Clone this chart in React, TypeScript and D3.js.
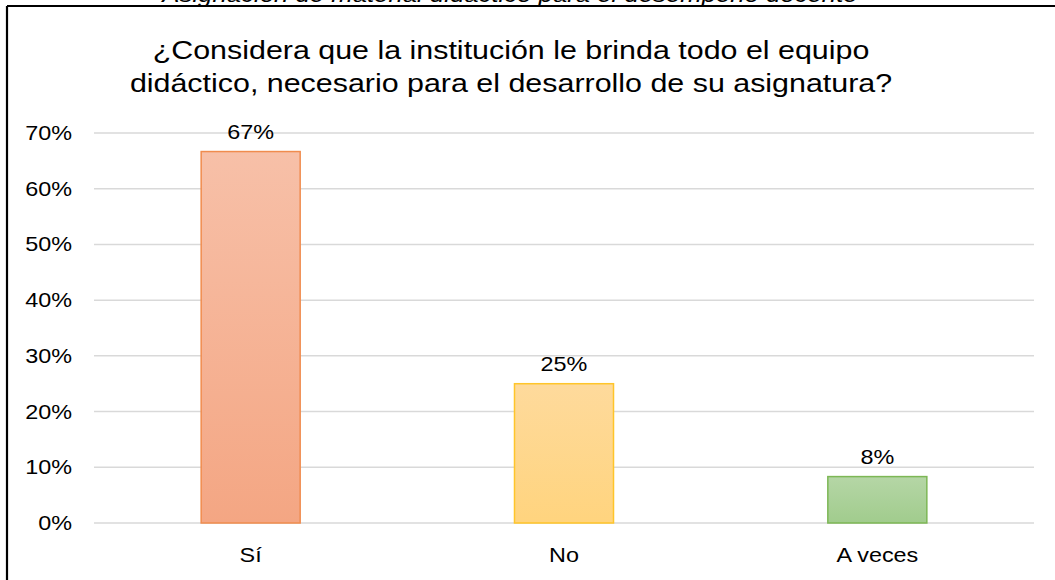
import React from "react";
import * as d3 from "d3";

const categories = ["Sí", "No", "A veces"];
const values = [0.6667, 0.25, 0.0833];
const yTicks = [0, 0.1, 0.2, 0.3, 0.4, 0.5, 0.6, 0.7];
const titleLines = [
  "¿Considera que la institución le brinda todo el equipo",
  "didáctico, necesario para el desarrollo de su asignatura?",
];
const caption = "Asignación de material didáctico para el desempeño docente";
const fills = [
  ["#F7C0A8", "#F4A683"],
  ["#FEDA9C", "#FFD47E"],
  ["#B5D6A6", "#A1CC8D"],
];
const strokes = ["#F08C4E", "#FFC52A", "#7DB755"];

const W = 1055;
const H = 580;
const plot = { left: 94, right: 1034, top: 133, bottom: 523 };
const FONT = "'Liberation Sans', Arial, sans-serif";
const SX = 1.17;

function T(props: { x: number; y: number; anchor?: string; size: number; italic?: boolean; dy?: string; children: React.ReactNode }) {
  return (
    <text
      transform={`translate(${props.x},${props.y}) scale(${SX},1)`}
      textAnchor={props.anchor || "middle"}
      fontSize={props.size}
      fontStyle={props.italic ? "italic" : "normal"}
      dy={props.dy}
      fill="#000"
    >
      {props.children}
    </text>
  );
}

export default function App() {
  const x = d3.scaleBand<string>().domain(categories).range([plot.left, plot.right]).padding(0);
  const y = d3.scaleLinear().domain([0, 0.7]).range([plot.bottom, plot.top]);
  const barW = x.bandwidth() * 0.316;
  const fmt = d3.format(".0%");
  return (
    <svg width={W} height={H} style={{ position: "absolute", left: 0, top: 0, background: "#fff" }} fontFamily={FONT}>
      <defs>
        {fills.map((f, i) => (
          <linearGradient key={i} id={`g${i}`} x1="0" y1="0" x2="0" y2="1">
            <stop offset="0" stopColor={f[0]} />
            <stop offset="1" stopColor={f[1]} />
          </linearGradient>
        ))}
      </defs>
      <rect x={0} y={0} width={W} height={H} fill="#fff" />
      <T x={510} y={2} size={22} italic>
        {caption}
      </T>
      <line x1={7} x2={W} y1={6} y2={6} stroke="#000" strokeWidth={2.2} />
      <line x1={7} x2={7} y1={6} y2={H} stroke="#000" strokeWidth={2.2} />
      {titleLines.map((t, i) => (
        <T key={i} x={511} y={59 + i * 33} size={26}>
          {t}
        </T>
      ))}
      {yTicks.map((t) => (
        <g key={t}>
          <line x1={plot.left} x2={plot.right} y1={y(t)} y2={y(t)} stroke="#D9D9D9" strokeWidth={1.5} />
          <T x={72} y={y(t)} dy="0.35em" anchor="end" size={20}>
            {fmt(t)}
          </T>
        </g>
      ))}
      {categories.map((c, i) => {
        const cx = (x(c) as number) + x.bandwidth() / 2;
        return (
          <g key={c}>
            <rect
              x={cx - barW / 2}
              y={y(values[i])}
              width={barW}
              height={y(0) - y(values[i])}
              fill={`url(#g${i})`}
              stroke={strokes[i]}
              strokeWidth={1.5}
            />
            <T x={cx} y={y(values[i]) - 13} size={20}>
              {fmt(values[i])}
            </T>
            <T x={cx} y={562} size={20}>
              {c}
            </T>
          </g>
        );
      })}
    </svg>
  );
}
